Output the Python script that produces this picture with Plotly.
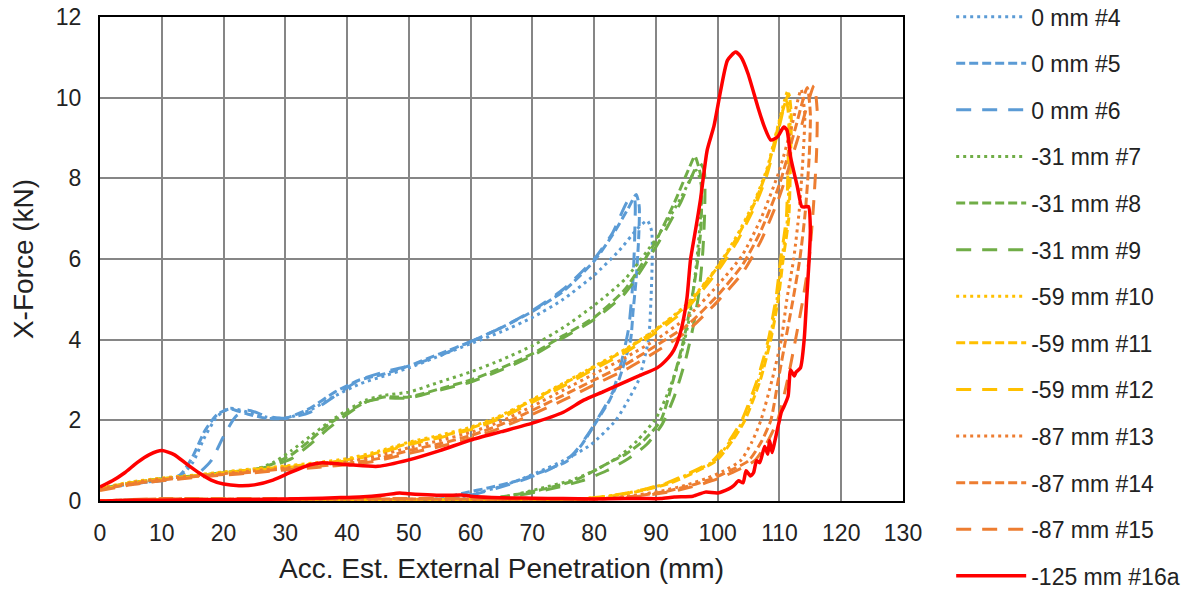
import plotly.graph_objects as go

# ---- data: accumulated estimated external penetration (mm) vs X-force (kN) ----
# each test is a load / unload loop: loading branch, unloading branch, return along zero

x_0mm_4 = [0, 5, 10, 13, 15, 17, 19, 21, 24, 27, 30, 34, 38, 42, 46, 50, 55, 60, 65, 70, 75, 80, 84, 87, 88.6,
           89.3, 89.4, 89.2, 88.8, 87.2, 85.5, 83.5, 79.5, 75, 71, 67.5, 64, 61, 58, 50, 40, 30, 20, 10, 0]
y_0mm_4 = [0.3, 0.42, 0.52, 0.62, 0.95, 1.6, 2.1, 2.3, 2.2, 2.08, 2.05, 2.25, 2.6, 2.9, 3.1, 3.3, 3.6, 3.9, 4.2, 4.55, 5.0, 5.6, 6.2, 6.75, 6.95,
           6.7, 6.0, 5.0, 4.0, 3.0, 2.5, 2.0, 1.4, 1.0, 0.72, 0.5, 0.32, 0.2, 0.08, 0.03, 0.02, 0.02, 0.02, 0.02, 0.0]

x_0mm_5 = [0, 5, 10, 13, 15, 17, 19, 21, 24, 27, 30, 34, 38, 42, 46, 50, 55, 60, 65, 70, 75, 80, 83, 85.5, 86.8,
           87.3, 87.2, 86.8, 86.3, 85.9, 84, 82.5, 80.5, 78, 75.7, 72, 67.5, 63, 59, 55, 45, 35, 25, 15, 5, 0]
y_0mm_5 = [0.3, 0.42, 0.52, 0.65, 1.1, 1.75, 2.15, 2.28, 2.15, 2.05, 2.05, 2.3, 2.7, 3.0, 3.15, 3.35, 3.65, 3.95, 4.3, 4.7, 5.2, 5.95, 6.6, 7.25, 7.6,
           7.3, 6.5, 5.5, 4.7, 4.0, 3.0, 2.5, 2.0, 1.4, 1.0, 0.75, 0.5, 0.33, 0.2, 0.05, 0.03, 0.02, 0.02, 0.02, 0.02, 0.0]

x_0mm_6 = [0, 5, 10, 14, 16, 18, 20, 22, 24, 27, 30, 34, 38, 42, 46, 50, 55, 60, 65, 70, 75, 80, 83, 85.5,
           86.5, 86.6, 86.3, 85.6, 84.5, 83, 81, 79, 76.5, 73, 69, 65, 61, 57, 45, 35, 25, 15, 5, 0]
y_0mm_6 = [0.3, 0.42, 0.5, 0.58, 0.7, 1.0, 1.6, 2.1, 2.25, 2.1, 2.05, 2.2, 2.6, 3.0, 3.2, 3.35, 3.6, 3.95, 4.3, 4.72, 5.25, 6.0, 6.65, 7.45,
           7.5, 6.8, 5.5, 4.3, 3.5, 2.7, 2.15, 1.65, 1.15, 0.8, 0.55, 0.35, 0.18, 0.05, 0.03, 0.02, 0.02, 0.02, 0.02, 0.0]

x_31mm_7 = [0, 5, 10, 15, 20, 25, 28, 31, 34, 37, 40, 43, 46, 50, 55, 60, 65, 70, 75, 80, 85, 90, 94, 96.5,
            97.3, 97.2, 96.5, 95.5, 94, 92, 90, 87, 84, 80, 76, 71, 66, 62, 50, 40, 30, 20, 10, 0]
y_31mm_7 = [0.3, 0.45, 0.55, 0.62, 0.7, 0.78, 0.95, 1.25, 1.6, 1.95, 2.25, 2.5, 2.62, 2.7, 2.95, 3.2, 3.5, 3.85, 4.3, 4.85, 5.5, 6.5, 7.5, 8.2,
            7.9, 7.0, 5.8, 4.6, 3.6, 2.7, 2.05, 1.5, 1.1, 0.75, 0.5, 0.3, 0.12, 0.04, 0.03, 0.03, 0.03, 0.03, 0.03, 0.0]

x_31mm_8 = [0, 5, 10, 15, 20, 25, 28, 31, 34, 37, 40, 43, 46, 50, 55, 60, 65, 70, 75, 80, 85, 90, 93, 95.5,
            96.3, 97.2, 97.4, 97.3, 96.8, 95.8, 94.5, 92.8, 90.8, 88, 85, 83, 80, 76.7, 72, 67, 62, 50, 40, 30, 20, 10, 0]
y_31mm_8 = [0.3, 0.45, 0.55, 0.62, 0.7, 0.78, 0.92, 1.15, 1.5, 1.9, 2.2, 2.45, 2.58, 2.58, 2.78, 3.0, 3.3, 3.65, 4.1, 4.55, 5.25, 6.45, 7.4, 8.3,
            8.55, 8.1, 7.6, 6.8, 6.0, 5.0, 4.0, 3.0, 2.0, 1.5, 1.15, 1.0, 0.75, 0.5, 0.3, 0.15, 0.04, 0.03, 0.03, 0.03, 0.03, 0.03, 0.0]

x_31mm_9 = [0, 5, 10, 15, 20, 25, 28, 31, 34, 37, 40, 43, 46, 50, 55, 60, 65, 70, 75, 80, 85, 90, 94, 97,
            97.8, 97.9, 97.6, 97, 96, 94.8, 93, 91, 88.5, 85.5, 82, 78, 73, 68, 63, 50, 40, 30, 20, 10, 0]
y_31mm_9 = [0.3, 0.45, 0.55, 0.62, 0.7, 0.78, 0.88, 1.05, 1.4, 1.8, 2.15, 2.45, 2.55, 2.55, 2.75, 2.95, 3.25, 3.6, 4.05, 4.5, 5.15, 6.3, 7.4, 8.4,
            8.2, 7.2, 6.2, 5.2, 4.3, 3.5, 2.6, 1.9, 1.4, 1.05, 0.75, 0.5, 0.3, 0.15, 0.04, 0.03, 0.03, 0.03, 0.03, 0.03, 0.0]

x_59mm_10 = [0, 5, 10, 15, 20, 25, 30, 35, 40, 45, 50, 55, 60, 65, 70, 75, 80, 85, 90, 95, 100, 103, 106, 108, 110, 111.3,
             111.7, 111.6, 111.3, 110.4, 109.6, 108.4, 106.6, 104.1, 102.1, 99.5, 96, 92, 88, 84, 80, 75, 70, 55, 40, 25, 10, 0]
y_59mm_10 = [0.32, 0.47, 0.57, 0.64, 0.72, 0.8, 0.87, 0.95, 1.05, 1.23, 1.46, 1.63, 1.83, 2.13, 2.52, 2.92, 3.34, 3.76, 4.26, 4.88, 5.82, 6.55, 7.45, 8.25, 9.45, 10.15,
             9.6, 8.5, 7.0, 6.0, 5.0, 4.0, 3.0, 2.0, 1.5, 1.0, 0.72, 0.45, 0.28, 0.16, 0.08, 0.04, 0.03, 0.03, 0.03, 0.03, 0.03, 0.0]

x_59mm_11 = [0, 5, 10, 15, 20, 25, 30, 35, 40, 45, 50, 55, 60, 65, 70, 75, 80, 85, 90, 95, 100, 103, 106, 108, 110, 111.5,
             111.9, 111.8, 111.5, 110.6, 109.8, 108.6, 106.9, 104.4, 102.4, 99.8, 96.4, 92.4, 88.4, 84.4, 80.4, 75.4, 70.4, 55, 40, 25, 10, 0]
y_59mm_11 = [0.3, 0.45, 0.55, 0.62, 0.7, 0.78, 0.85, 0.92, 1.02, 1.2, 1.43, 1.6, 1.8, 2.1, 2.5, 2.9, 3.32, 3.74, 4.24, 4.85, 5.8, 6.5, 7.4, 8.2, 9.4, 10.1,
             9.6, 8.5, 7.0, 6.0, 5.0, 4.0, 3.0, 2.0, 1.5, 1.0, 0.72, 0.45, 0.28, 0.16, 0.08, 0.04, 0.03, 0.03, 0.03, 0.03, 0.03, 0.0]

x_59mm_12 = [0, 5, 10, 15, 20, 25, 30, 35, 40, 45, 50, 55, 60, 65, 70, 75, 80, 85, 90, 95, 100, 103, 106, 108, 110, 111.1,
             111.5, 111.4, 111.1, 110.2, 109.4, 108.2, 106.4, 103.9, 101.9, 99.2, 95.8, 91.8, 87.8, 83.8, 79.8, 74.8, 69.8, 55, 40, 25, 10, 0]
y_59mm_12 = [0.28, 0.43, 0.53, 0.6, 0.68, 0.76, 0.83, 0.9, 1.0, 1.17, 1.4, 1.57, 1.77, 2.06, 2.45, 2.85, 3.27, 3.68, 4.18, 4.78, 5.7, 6.4, 7.3, 8.1, 9.3, 9.95,
             9.5, 8.4, 7.0, 6.0, 5.0, 4.0, 3.0, 2.0, 1.5, 1.0, 0.72, 0.45, 0.28, 0.16, 0.08, 0.04, 0.03, 0.03, 0.03, 0.03, 0.03, 0.0]

x_87mm_13 = [0, 5, 10, 15, 20, 25, 30, 35, 40, 45, 50, 55, 60, 65, 70, 75, 80, 85, 90, 95, 100, 104, 107, 110, 112, 113.5,
             114.1, 113.8, 113.2, 112.3, 111.2, 110.3, 108.8, 107, 105.5, 103.7, 101, 98, 95, 91, 87, 83, 78, 72, 55, 40, 25, 10, 0]
y_87mm_13 = [0.3, 0.45, 0.55, 0.62, 0.68, 0.75, 0.82, 0.88, 0.97, 1.12, 1.32, 1.5, 1.7, 1.98, 2.35, 2.75, 3.15, 3.55, 4.0, 4.55, 5.35, 6.1, 7.0, 8.2, 9.3, 10.2,
             9.6, 8.5, 7.2, 6.0, 5.0, 4.0, 3.0, 2.0, 1.45, 1.0, 0.75, 0.55, 0.4, 0.25, 0.15, 0.08, 0.04, 0.03, 0.04, 0.04, 0.04, 0.04, 0.0]

x_87mm_14 = [0, 5, 10, 15, 20, 25, 30, 35, 40, 45, 50, 55, 60, 65, 70, 75, 80, 85, 90, 95, 100, 104, 107, 110, 112.5, 114.5,
             115, 114.8, 114.2, 113.3, 112.2, 111, 109.8, 108.6, 107, 105, 102, 99, 96, 92, 88, 84, 79, 73, 55, 40, 25, 10, 0]
y_87mm_14 = [0.28, 0.42, 0.52, 0.6, 0.66, 0.72, 0.8, 0.86, 0.93, 1.05, 1.25, 1.42, 1.62, 1.9, 2.25, 2.62, 3.0, 3.38, 3.85, 4.35, 5.1, 5.85, 6.7, 7.85, 9.2, 10.25,
             9.6, 8.5, 7.2, 6.0, 5.0, 4.0, 3.0, 2.0, 1.45, 1.0, 0.75, 0.55, 0.4, 0.25, 0.15, 0.08, 0.04, 0.04, 0.05, 0.05, 0.05, 0.05, 0.0]

x_87mm_15 = [0, 5, 10, 15, 20, 25, 30, 35, 40, 45, 50, 55, 60, 65, 70, 75, 80, 85, 90, 95, 100, 104, 107, 110, 113, 115.6,
             116.1, 116.0, 115.5, 114.8, 113.8, 112.6, 111.3, 109.7, 108, 106, 103, 100, 97, 93, 89, 85, 80, 74, 55, 40, 25, 10, 0]
y_87mm_15 = [0.26, 0.4, 0.5, 0.58, 0.64, 0.7, 0.77, 0.83, 0.9, 1.0, 1.18, 1.35, 1.55, 1.82, 2.15, 2.5, 2.88, 3.25, 3.7, 4.2, 4.95, 5.65, 6.45, 7.55, 9.0, 10.3,
             9.7, 8.6, 7.3, 6.0, 5.0, 4.0, 3.0, 2.0, 1.45, 1.0, 0.75, 0.55, 0.4, 0.25, 0.15, 0.08, 0.05, 0.05, 0.06, 0.06, 0.06, 0.06, 0.0]

x_125mm_16a = [0, 2, 4, 6, 8, 10, 12, 14, 16, 18, 20, 22.5, 25, 28, 31, 34, 36, 38, 41, 45, 50, 55, 60, 65, 70, 75, 78.3, 81.6,
               85.4, 88, 90.2, 92, 92.9, 94, 95, 95.6, 96.5, 97.2, 98.3, 99.4, 100.5, 101.6, 102.9, 103.8, 104.9, 106.5, 107.5,
               108.6, 109.7, 110.7, 111.2, 111.8, 112.9, 113.6, 114, 114.7, 115,
               114.8, 114.4, 114, 113.4, 112.7, 112.4, 111.8, 111.4, 110.7, 110.3, 110, 109.7, 109.2, 108.8, 108.4, 108.1, 107.6,
               106.8, 106.3, 105.8, 105.3, 104.6, 104.1, 103.4, 102.6, 101.8, 100, 98, 96, 93, 90.8, 88, 85,
               80, 75, 70, 65, 60, 58.5, 55, 52, 50, 48.5, 46, 42, 38, 34, 30, 25, 20, 15, 10, 5, 0]
y_125mm_16a = [0.35, 0.5, 0.7, 0.95, 1.15, 1.25, 1.15, 0.92, 0.7, 0.52, 0.42, 0.38, 0.4, 0.52, 0.72, 0.9, 0.95, 0.93, 0.89, 0.86, 1.02, 1.25, 1.51, 1.72, 1.93, 2.2, 2.5, 2.72,
               2.98, 3.15, 3.3, 3.55, 3.74, 4.2, 5.0, 5.98, 6.8, 7.46, 8.7, 9.3, 10.19, 10.93, 11.13, 11.0, 10.6, 9.77, 9.3,
               8.95, 9.03, 9.27, 9.2, 8.53, 7.79, 7.3, 7.29, 7.3, 6.72,
               5.97, 5.0, 4.0, 3.3, 3.2, 3.1, 3.25, 2.6, 2.33, 2.2, 2.0, 1.8, 1.45, 1.2, 1.5, 1.16, 1.35,
               0.95, 1.0, 0.7, 0.62, 0.75, 0.45, 0.5, 0.38, 0.3, 0.2, 0.22, 0.12, 0.1, 0.06, 0.06, 0.06,
               0.05, 0.06, 0.07, 0.08, 0.12, 0.15, 0.14, 0.16, 0.18, 0.2, 0.15, 0.1, 0.08, 0.06, 0.05, 0.04, 0.03, 0.03, 0.02, 0.02, 0.0]

# ---- series styling ----
BLUE, GREEN, YELLOW, ORANGE, RED = "#5B9BD5", "#70AD47", "#FFC000", "#ED7D31", "#FF0000"
DOT, DASH, LONG = "3px,4px", "9px,4px", "15px,11px"

series = [
    ("0 mm #4", x_0mm_4, y_0mm_4, BLUE, DOT),
    ("0 mm #5", x_0mm_5, y_0mm_5, BLUE, DASH),
    ("0 mm #6", x_0mm_6, y_0mm_6, BLUE, LONG),
    ("-31 mm #7", x_31mm_7, y_31mm_7, GREEN, DOT),
    ("-31 mm #8", x_31mm_8, y_31mm_8, GREEN, DASH),
    ("-31 mm #9", x_31mm_9, y_31mm_9, GREEN, LONG),
    ("-59 mm #10", x_59mm_10, y_59mm_10, YELLOW, DOT),
    ("-59 mm #11", x_59mm_11, y_59mm_11, YELLOW, DASH),
    ("-59 mm #12", x_59mm_12, y_59mm_12, YELLOW, LONG),
    ("-87 mm #13", x_87mm_13, y_87mm_13, ORANGE, DOT),
    ("-87 mm #14", x_87mm_14, y_87mm_14, ORANGE, DASH),
    ("-87 mm #15", x_87mm_15, y_87mm_15, ORANGE, LONG),
    ("-125 mm #16a", x_125mm_16a, y_125mm_16a, RED, "solid"),
]

fig = go.Figure()
for i, (name, xs, ys, color, dash) in enumerate(series):
    fig.add_trace(go.Scatter(
        x=xs, y=ys, name=name, mode="lines", legendgroup=f"g{i}",
        line=dict(color=color, dash=dash, width=3.5 if dash == "solid" else 3, shape="spline", smoothing=0.6),
    ))

FONT = "Liberation Sans, Arial, sans-serif"
fig.update_layout(
    width=1189, height=590,
    margin=dict(l=100, r=286, t=17, b=89, autoexpand=False),
    paper_bgcolor="white", plot_bgcolor="white",
    font=dict(family=FONT, size=23, color="#222222"),
    showlegend=True,
    legend=dict(x=1.06, y=1.045, xanchor="left", yanchor="top", tracegroupgap=13.7, maxheight=900,
                font=dict(size=23), itemwidth=70, bgcolor="rgba(0,0,0,0)"),
    xaxis=dict(range=[0, 130], dtick=10, tick0=0, showgrid=True, gridcolor="#868686", gridwidth=2,
               showline=True, linecolor="black", linewidth=2, mirror=True, zeroline=False,
               ticks="", ticklabelstandoff=10,
               title=dict(text="Acc. Est. External Penetration (mm)", standoff=14)),
    yaxis=dict(range=[0, 12], dtick=2, tick0=0, showgrid=True, gridcolor="#868686", gridwidth=2,
               showline=True, linecolor="black", linewidth=2, mirror=True, zeroline=False,
               ticks="", ticklabelstandoff=12,
               title=dict(text="X-Force (kN)", standoff=14)),
)

fig.write_html("out.html")
